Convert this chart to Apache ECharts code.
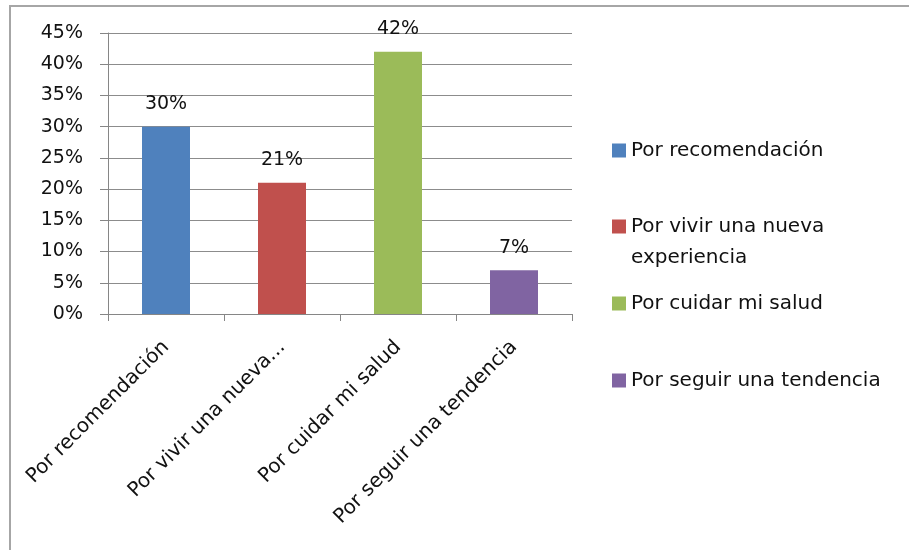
<!DOCTYPE html>
<html>
<head>
<meta charset="utf-8">
<script src="https://cdn.jsdelivr.net/npm/echarts@6/dist/echarts.min.js"></script>
<style>
  html, body { margin: 0; padding: 0; background: #fff; }
  #chart { width: 909px; height: 550px; }
</style>
</head>
<body>
<div id="chart"></div>
<script>
// Motivos y porcentajes
const categories = ['Por recomendación', 'Por vivir una nueva...', 'Por cuidar mi salud', 'Por seguir una tendencia'];
const seriesNames = ['Por recomendación', 'Por vivir una nueva experiencia', 'Por cuidar mi salud', 'Por seguir una tendencia'];
const values = [0.30, 0.21, 0.42, 0.07];
const colors = ['#4F81BD', '#C0504D', '#9BBB59', '#8064A2'];
const legendTops = [135, 180, 288, 365];

const FONT = 'DejaVu Sans';
const LINE_H = 31;
const chart = echarts.init(document.getElementById('chart'), null, { renderer: 'canvas' });

const pct = v => Math.round(v * 100) + '%';

// One series per motive so each bar has its own legend entry; overlapping slots keep bars centred
const series = seriesNames.map((name, i) => ({
  name,
  type: 'bar',
  barWidth: 48,
  barGap: '-100%',
  itemStyle: { color: colors[i] },
  data: categories.map((c, j) => (j === i ? values[i] : null)),
  label: {
    show: true,
    position: 'top',
    distance: 13,
    color: '#111',
    fontFamily: FONT,
    fontSize: 19,
    formatter: p => pct(p.value)
  }
}));

// The long entry wraps onto two lines; a blank leading line keeps its first line level with the swatch
const legendLabel = n => (n === 'Por vivir una nueva experiencia' ? ' \nPor vivir una nueva\nexperiencia' : n);

const legends = seriesNames.map((name, i) => ({
  orient: 'vertical',
  left: 612,
  top: legendTops[i],
  padding: 0,
  data: [name],
  itemWidth: 14,
  itemHeight: 14,
  icon: 'rect',
  selectedMode: false,
  formatter: legendLabel,
  textStyle: {
    fontFamily: FONT,
    fontSize: 20,
    color: '#111',
    lineHeight: LINE_H
  }
}));

chart.setOption({
  animation: false,
  backgroundColor: '#fff',
  graphic: [{
    type: 'rect',
    shape: { x: 10, y: 6, width: 1000, height: 700 },
    style: { fill: 'none', stroke: '#a6a6a6', lineWidth: 2 },
    silent: true
  }],
  grid: { left: 108, right: 337, top: 33, bottom: 236 },
  legend: legends,
  xAxis: {
    type: 'category',
    data: categories,
    axisLine: { lineStyle: { color: '#868686', width: 1 } },
    axisTick: { show: true, length: 7, lineStyle: { color: '#868686' } },
    axisLabel: {
      rotate: 45,
      margin: 30,
      color: '#111',
      fontFamily: FONT,
      fontSize: 20,
      interval: 0
    }
  },
  yAxis: {
    type: 'value',
    min: 0,
    max: 0.45,
    interval: 0.05,
    axisLine: { show: true, lineStyle: { color: '#868686', width: 1 } },
    axisTick: { show: true, length: 8, lineStyle: { color: '#868686' } },
    splitLine: { show: true, lineStyle: { color: '#8c8c8c', width: 1 } },
    axisLabel: {
      margin: 25,
      color: '#111',
      fontFamily: FONT,
      fontSize: 19,
      formatter: v => pct(v)
    }
  },
  series
});
</script>
</body>
</html>
